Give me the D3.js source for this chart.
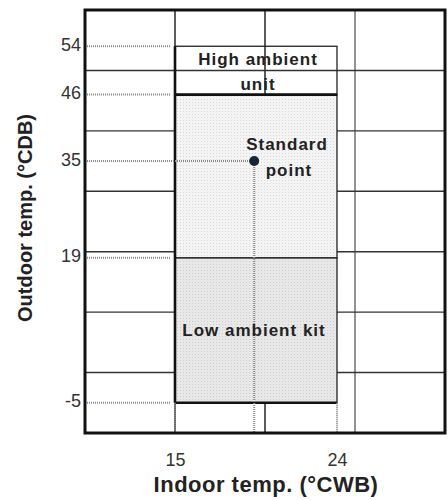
<!DOCTYPE html>
<html lang="en">
  <head>
    <meta charset="utf-8">
    <title>Operating range</title>
    <script src="https://d3js.org/d3.v7.min.js"></script>
    <style>
      body { margin: 0; background: white; }
      text { font-family: "Liberation Sans", Arial, sans-serif; }
    </style>
  </head>
  <body>
    <script type="text/javascript">

      // data
      var xTicks = [15, 24];
      var yTicks = [54, 46, 35, 19, -5];
      var gridX = [10, 15, 20, 25, 30];
      var gridY = [-10, 0, 10, 20, 30, 40, 50, 60];
      var zoneNames = ["Low ambient kit", "Standard", "High ambient unit"];
      var zoneIndoor = [[15, 24], [15, 24], [15, 24]];
      var zoneOutdoor = [[-5, 19], [19, 46], [46, 54]];
      var standardPoint = [19.4, 35];

      var w = 448, h = 500;
      var margin = {top: 10, right: 3, bottom: 67, left: 85};

      var svg = d3.select("body").append("svg")
          .attr("width", w)
          .attr("height", h);

      var xScale = d3.scaleLinear().domain([10, 30]).range([margin.left, w - margin.right]);
      var yScale = d3.scaleLinear().domain([-10, 60]).range([h - margin.bottom, margin.top]);

      // dotted fill patterns
      var defs = svg.append("defs");
      function dots(id, bg, dot) {
        var p = defs.append("pattern").attr("id", id)
            .attr("width", 3).attr("height", 3)
            .attr("patternUnits", "userSpaceOnUse");
        p.append("rect").attr("width", 3).attr("height", 3).attr("fill", bg);
        p.append("rect").attr("width", 1).attr("height", 1).attr("fill", dot);
      }
      dots("dotsLow", "#e8e8e8", "#cdcdcd");
      dots("dotsStd", "#f4f4f4", "#d8d8d8");

      // grid
      svg.append("g").selectAll("line").data(gridX.slice(1, -1)).enter().append("line")
          .attr("x1", function(d) { return xScale(d); })
          .attr("x2", function(d) { return xScale(d); })
          .attr("y1", yScale(60)).attr("y2", yScale(-10))
          .attr("stroke", function(d) { return d == 25 ? "#777" : "#333"; })
          .attr("stroke-width", 1.6);
      svg.append("g").selectAll("line").data(gridY.slice(1, -1)).enter().append("line")
          .attr("x1", xScale(10)).attr("x2", xScale(30))
          .attr("y1", function(d) { return yScale(d); })
          .attr("y2", function(d) { return yScale(d); })
          .attr("stroke", "#333")
          .attr("stroke-width", 1.4);

      // zones
      var fills = ["url(#dotsLow)", "url(#dotsStd)", "none"];
      svg.append("g").selectAll("rect").data(zoneNames).enter().append("rect")
          .attr("x", function(d, i) { return xScale(zoneIndoor[i][0]); })
          .attr("width", function(d, i) { return xScale(zoneIndoor[i][1]) - xScale(zoneIndoor[i][0]); })
          .attr("y", function(d, i) { return yScale(zoneOutdoor[i][1]); })
          .attr("height", function(d, i) { return yScale(zoneOutdoor[i][0]) - yScale(zoneOutdoor[i][1]); })
          .attr("fill", function(d, i) { return fills[i]; })
          .attr("stroke", "#222")
          .attr("stroke-width", 1.3);

      // heavier edges of the envelope
      var x0 = xScale(15), x1 = xScale(24);
      svg.append("line").attr("x1", x0).attr("x2", x0)
          .attr("y1", yScale(54)).attr("y2", yScale(-5))
          .attr("stroke", "#111").attr("stroke-width", 2.6);
      svg.append("line").attr("x1", x0).attr("x2", x1)
          .attr("y1", yScale(46)).attr("y2", yScale(46))
          .attr("stroke", "#111").attr("stroke-width", 2.6);
      svg.append("line").attr("x1", x0).attr("x2", x1)
          .attr("y1", yScale(-5)).attr("y2", yScale(-5))
          .attr("stroke", "#111").attr("stroke-width", 2.6);

      // dotted leaders
      var lead = svg.append("g")
          .attr("stroke", "#8a8a8a")
          .attr("stroke-width", 2)
          .attr("stroke-dasharray", "1,1");
      yTicks.filter(function(d) { return d != standardPoint[1]; }).forEach(function(d) {
        lead.append("line")
            .attr("x1", xScale(10) + 2).attr("x2", x0 - 4)
            .attr("y1", yScale(d)).attr("y2", yScale(d));
      });
      lead.append("line")
          .attr("x1", xScale(10) + 2).attr("x2", xScale(standardPoint[0]))
          .attr("y1", yScale(standardPoint[1])).attr("y2", yScale(standardPoint[1]));
      lead.append("line")
          .attr("x1", xScale(standardPoint[0])).attr("x2", xScale(standardPoint[0]))
          .attr("y1", yScale(standardPoint[1])).attr("y2", yScale(-10));
      xTicks.forEach(function(d) {
        lead.append("line")
            .attr("x1", xScale(d)).attr("x2", xScale(d))
            .attr("y1", yScale(-5)).attr("y2", yScale(-10));
      });

      // standard point
      svg.append("circle")
          .attr("cx", xScale(standardPoint[0]))
          .attr("cy", yScale(standardPoint[1]))
          .attr("r", 5)
          .attr("fill", "#17253a");

      // frame
      svg.append("rect")
          .attr("x", xScale(10)).attr("y", yScale(60))
          .attr("width", xScale(30) - xScale(10))
          .attr("height", yScale(-10) - yScale(60))
          .attr("fill", "none")
          .attr("stroke", "#111")
          .attr("stroke-width", 3);

      // zone labels
      var lab = svg.append("g")
          .attr("font-size", "17px")
          .attr("font-weight", "bold")
          .attr("letter-spacing", "1px")
          .attr("fill", "#222")
          .attr("text-anchor", "middle");
      lab.append("text").attr("x", 258).attr("y", 65).text("High ambient");
      lab.append("text").attr("x", 258).attr("y", 90).text("unit");
      lab.append("text").attr("x", 287).attr("y", 150).text("Standard");
      lab.append("text").attr("x", 289).attr("y", 176).text("point");
      lab.append("text").attr("x", 254).attr("y", 336).text("Low ambient kit");

      // axes
      var yAxis = d3.axisLeft(yScale).tickValues(yTicks).tickSize(0).tickPadding(4)
          .tickFormat(function(d) { return String(d); });
      svg.append("g")
          .attr("transform", "translate(" + xScale(10) + ",0)")
          .call(yAxis)
          .call(function(g) { g.select(".domain").remove(); })
          .selectAll("text")
          .attr("font-family", "Liberation Sans, Arial, sans-serif")
          .attr("font-size", "18px")
          .attr("dy", "0.22em")
          .attr("fill", "#333");

      var xAxis = d3.axisBottom(xScale).tickValues(xTicks).tickSize(0).tickPadding(20);
      svg.append("g")
          .attr("transform", "translate(0," + yScale(-10) + ")")
          .call(xAxis)
          .call(function(g) { g.select(".domain").remove(); })
          .selectAll("text")
          .attr("font-family", "Liberation Sans, Arial, sans-serif")
          .attr("font-size", "18px")
          .attr("fill", "#333");

      svg.append("text")
          .attr("x", 266).attr("y", 492)
          .attr("text-anchor", "middle")
          .attr("font-size", "22px")
          .attr("font-weight", "bold")
          .attr("letter-spacing", "0.5px")
          .attr("fill", "#222")
          .text("Indoor temp. (°CWB)");

      svg.append("text")
          .attr("transform", "translate(32,218) rotate(-90)")
          .attr("text-anchor", "middle")
          .attr("font-size", "20px")
          .attr("font-weight", "bold")
          .attr("fill", "#222")
          .text("Outdoor temp. (°CDB)");

    </script>
  </body>
</html>
